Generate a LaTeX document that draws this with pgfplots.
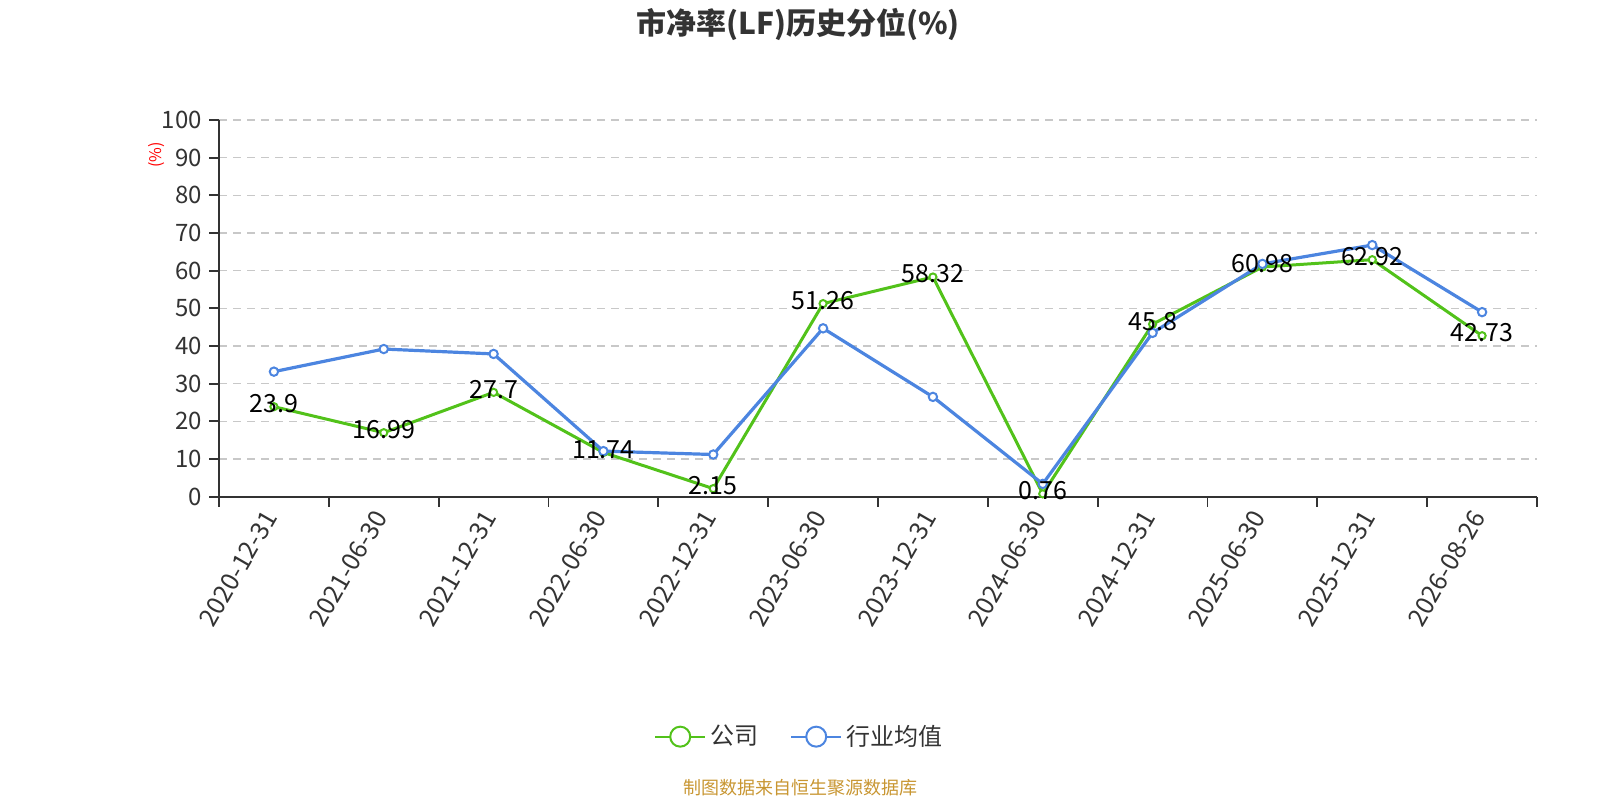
\documentclass[border=0pt]{standalone}
\usepackage{pgfplots}
\pgfplotsset{compat=1.18}
\usepackage{fontspec}
\setmainfont{Noto Sans CJK SC}
\definecolor{cgreen}{RGB}{82,194,26}
\definecolor{cblue}{RGB}{76,133,224}
\definecolor{ctext}{RGB}{51,51,51}
\definecolor{cgrid}{RGB}{200,200,200}
\definecolor{csrc}{RGB}{200,150,50}
\begin{document}
\begin{tikzpicture}
\path[use as bounding box] (0,0) rectangle (800pt,400pt);
\node[font=\fontsize{15pt}{18pt}\selectfont\bfseries, text=ctext] at (399pt,388pt) {市净率(LF)历史分位(\%)};
\node[font=\fontsize{8pt}{9pt}\selectfont, text=red, rotate=90] at (78.5pt,322.5pt) {(\%)};
\node[font=\fontsize{9pt}{11pt}\selectfont, text=csrc] at (400pt,6pt) {制图数据来自恒生聚源数据库};
\begin{axis}[
  at={(109.5pt,151.65pt)}, anchor=south west,
  scale only axis, width=659pt, height=188.35pt,
  xmin=-0.5, xmax=11.5, ymin=0, ymax=100,
  axis x line=bottom, axis y line=left,
  axis line style={-, draw=ctext, line width=0.9pt},
  xtick={-0.5,0.5,1.5,2.5,3.5,4.5,5.5,6.5,7.5,8.5,9.5,10.5,11.5},
  x tick label as interval=true,
  xticklabels={2020-12-31,2021-06-30,2021-12-31,2022-06-30,2022-12-31,2023-06-30,2023-12-31,2024-06-30,2024-12-31,2025-06-30,2025-12-31,2026-08-26},
  xticklabel style={rotate=60, anchor=east, font=\fontsize{12.5pt}{14pt}\selectfont, text=ctext},
  ytick={0,10,...,100},
  yticklabel style={font=\fontsize{12pt}{14pt}\selectfont, text=ctext},
  /pgf/number format/assume math mode=true,
  tick align=outside, major tick length=5pt,
  tick style={draw=ctext, line width=0.9pt},
  ymajorgrids=true,
  grid style={draw=cgrid, dash pattern=on 4pt off 3pt, line width=0.7pt},
  clip=false,
  legend columns=2,
  legend style={at={(0.441,-0.637)}, anchor=center, draw=none, fill=none,
    font=\fontsize{12pt}{14pt}\selectfont, text=ctext,
    /tikz/every even column/.append style={column sep=14pt}},
  legend cell align=left,
]
\addplot[cgreen, line width=1.5pt, mark=*, mark size=1.8pt, mark options={fill=white, draw=cgreen, line width=1pt},
  legend image code/.code={\draw[cgreen,line width=1pt](0pt,0pt)--(25pt,0pt); \draw[cgreen,line width=1pt,fill=white](12.5pt,0pt) circle (5pt);}]
  coordinates {(0,23.9)(1,16.99)(2,27.7)(3,11.74)(4,2.15)(5,51.26)(6,58.32)(7,0.76)(8,45.8)(9,60.98)(10,62.92)(11,42.73)};
\addlegendentry{公司}
\addplot[cblue, line width=1.6pt, mark=*, mark size=2.1pt, mark options={fill=white, draw=cblue, line width=1pt},
  legend image code/.code={\draw[cblue,line width=1pt](0pt,0pt)--(25pt,0pt); \draw[cblue,line width=1pt,fill=white](12.5pt,0pt) circle (5pt);}]
  coordinates {(0,33.2)(1,39.2)(2,37.9)(3,12.1)(4,11.2)(5,44.7)(6,26.5)(7,3.4)(8,43.5)(9,61.8)(10,66.8)(11,49.0)};
\addlegendentry{行业均值}
\addplot[draw=none, forget plot, nodes near coords, point meta=explicit symbolic,
  every node near coord/.append style={anchor=center, yshift=1.5pt, text=black, font=\fontsize{12.5pt}{14pt}\selectfont}]
  coordinates {(0,23.9)[23.9](1,16.99)[16.99](2,27.7)[27.7](3,11.74)[11.74](4,2.15)[2.15](5,51.26)[51.26](6,58.32)[58.32](7,0.76)[0.76](8,45.8)[45.8](9,60.98)[60.98](10,62.92)[62.92](11,42.73)[42.73]};
\end{axis}
\end{tikzpicture}
\end{document}
